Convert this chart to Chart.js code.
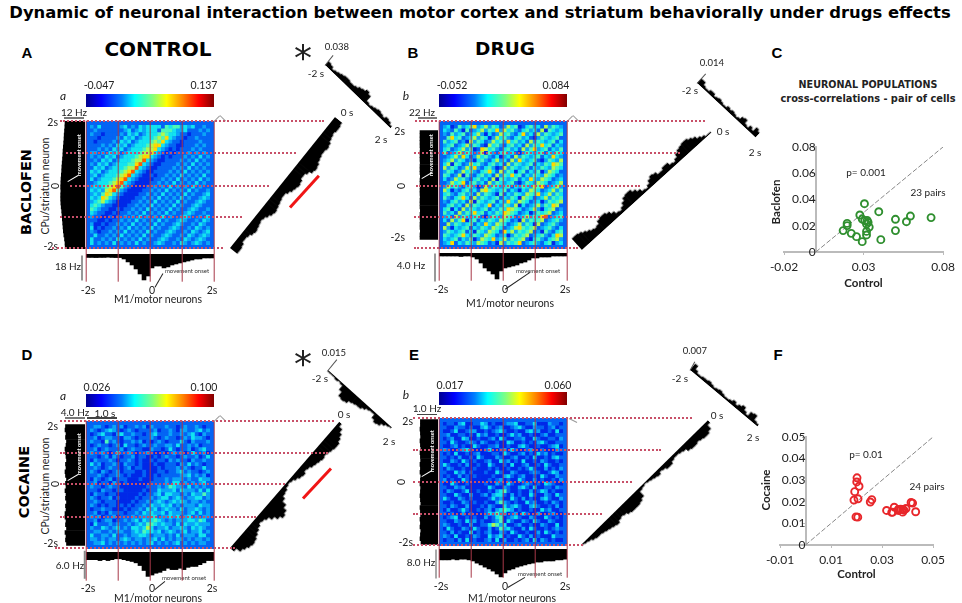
<!DOCTYPE html>
<html><head><meta charset="utf-8">
<script src="https://cdn.jsdelivr.net/npm/chart.js@4"></script>
<style>
html,body{margin:0;padding:0;background:#fff;width:962px;height:603px;overflow:hidden}
canvas{position:absolute;display:block}
.t{position:absolute;white-space:nowrap;transform-origin:center;font-family:Lato,sans-serif;color:#222;line-height:1}
.s{position:absolute;transform-origin:0 50%}
</style></head><body>
<script>
// Colour levels 0..9 of the jet scale used by the cross-correlation matrices
const jetLevels=['#0000a8','#0028e8','#0464f4','#0aa4f8','#12e4f0','#4cf8b8','#b0f850','#ffd800','#ff5a00','#c00000'];

const heatA=[
"32422222342324344442545534342232","23222222234234344425554334222323","32212222324342344456544322122232","22122223243423444565743221223222",
"21222232434234445657432212222322","22232324342344456774322112223232","22323243423444566743212122232322","33232434234445667432121222323232",
"32324342344456774321212223232423","23243423444566843211222232324232","32434234445578432112222323242323","24342344456684321122223232423232",
"43423444567843211222232324232323","34234445678432112122323242323242","42344456784321111223232423232423","23444567843211112232324232324232",
"34345678532111122323242323242322","43436785321111223232423232423223","34357643211112232324232324232234","43476432111122323242323242322343",
"34564321111223232423232423223432","45432211112232324232324232234322","54322112122323242323242322343223","43221121223232423232423223432232",
"32211212232324232324232234322324","22112122323242323242322343223243","31121223232423232423223432232432","41212232324232324232234322324323",
"32122323242323242322343223243234","24223232423232423223432232432343","42232324232324232234322324323432","42323242323242322343223243234323"];
const heatB=[
"34125345734635423645124534263543","43253152346354736453245342615434","32534523463142364532473426354345","25745234635413645324534213543452",
"53452316354236453745342635434524","34523463542164532453426354745243","45234635127645324534263573452435","52346354236153245342135434524354",
"23463742364532413426354345243743","34635423145324634263743452135436","46154236453245342635434524354765","63542364732453126354345243543654",
"35423645324574263541452435136542","54236153245342635474524354365423","42364532453426154345243743654234","23645724534263543452135436542346",
"36453245312635434524354365723463","64132453426754345243143654234635","45324534263543152435436547346354","53245742635434524354165423463545",
"32453426154345243743654234135456","24534263543472435436142346354762","45142635434524354765423463145623","53426354745243547654234135456234",
"34263543452135436542346354782345","42635714524354365423163545623453","26354345243743654234635416234532","63143452435436542346754562345324",
"35434524154365427463545623153245","54345743543654234135456234532476","43452435136547346354562145324563","34724354365423163545723453245134"];
const heatD=[
"23321232312232313222322123223212","32123432123212222312232133223423","12342213422322123422232232342132","23123322133212223212322123243321",
"32215232122323121232122242132223","12322123142212322322332422323122","23123222312322113221242122312342","32232124223212232112123231242231",
"22123132122312211212322123223124","13222321223212112122132322132232","42312232132212111211222132423212","23212322123122111121222323212242",
"32132123122211211122122342322123","22321223212111211212222233423231","13212312221112111222323332322433","23122132121111112222324423232342",
"32212322111111122232354332423232","22132212211111212243334243332424","13221221111112122342443323243353","32122312111121223234423432334423",
"23212221111212232343234343233232","32121221212122324334342323332433","12232211121223243423433242334323","23121322212232434334243332342423",
"32312231222323334423343423423233","23123312232342434543232333443542","14222323223234355434332424334333","32243234232443464233423343243432",
"23322323322343544342343234233423","42233242232334432333232423332442","33232332343233233424232332323323","23342323232323234232323423232332"];
const heatE=[
"12213411224312112334112241113221","21132212113421231123421132212312","11241123311212342112113423112141","23112212142311211242311211231122",
"12311431121123142112231142112213","21421123213211211431121213421122","11231211421122311211342112112341","32112342111241123142112311211132",
"12141121231112214211231214231211","21213112142111321123112141121342","11321421211231142312141121321121","42112131121142112141123112142112",
"13211211211121211211212421131213","21142312111211421132111232112431","12113121211112113421231121421132","31211421111121231211421131211213",
"11421121111211321421123212143211","21132311111142113211342141122132","13211241121121345211211312431211","21142113112313442131211421132142",
"42113212111124231142131211342113","11211321211211353212114231121321","21321131112132114234211342112131","13112421121231345431211211423112",
"21211312111243534123142113112311","12341121211312451234211321142121","21132142312112351421132142113211","32112113112246534112311211321141",
"14211321421131253421131421121232","21312114121231132142112113142121","32141121321142341211421312111422","12213141211231413112123141321211"];

const leftA=[11.9,12,12.3,12.7,13,13.2,13.4,13.6,13.8,14,14.3,14.5,14.6,14.6,14.5,14.6,14.5,14.4,14.2,14,13.9,13.7,13.5,13.3,13.2,13,12.8,12.6,12.5,12.3,12.1,12];
const leftB=[22,22,21.6,22,22,21.8,22,22,21.6,22,22,22,21.8,22,22,21.8,22,22,21.6,22,22,22,21.8,22,22,22,21.8,22,22,22,22,22];
const leftD=[3.7,3.9,3.8,4,3.7,3.9,3.8,4,4,3.8,3.9,3.7,3.9,3.8,4,3.8,3.9,3.7,3.9,4,3.8,3.9,3.7,3.8,3.9,4,3.8,3.7,3.9,3.8,4,3.9];
const leftE=[.85,.9,.88,.86,.9,.88,.9,.87,.88,.9,.86,.88,.9,.88,.87,.9,.88,.86,.9,.88,.9,.87,.88,.9,.86,.88,.9,.87,.88,.9,.88,.88];

const bottomA=[2.7,2.7,2.8,2.7,2.7,2.5,2.7,2.8,2.8,3.9,6.2,8.6,11.7,15.6,20.3,17.2,10.9,9.4,9.4,10.9,10.1,8.6,7.8,7,6.2,5.5,4.7,3.9,3.9,3.1,3.1,3.1];
const bottomB=[.43,.43,.43,.43,.43,.5,.43,.43,.57,.86,1.43,2.14,2.57,3,3.71,2.57,2.14,2,1.86,1.71,1.43,1.29,1,.71,.71,.57,.57,.57,.43,.43,.43,.43];
const bottomD=[1.7,1.7,1.7,1.9,1.7,1.9,1.7,1.5,1.5,1.7,1.9,2.1,2.4,3,4.1,5.4,5.1,4.7,4.5,4.1,3.6,3.9,3.9,3.6,3.9,3.4,3.2,3.2,2.8,2.4,1.9,1.9];
const bottomE=[3,3,3,2.8,3,2.8,2.8,3,3.3,3.9,4.4,5,5.5,6.1,6.9,7.7,6.6,5.8,5.5,5,4.7,4.4,4.1,3.9,3.6,3.6,3.3,3.3,3.3,3,3,2.8];

const diagA=[9,9,8,6,6,7,9,10,9,8,7,8,10,12,13,12,11,10,9,9,11,13,14,15,14,12,12,14,17,18,17,15,14,13,13,14,13,11,10,9,10,10,9];
const diagB=[15,15,14,12,10,8,7,8,11,12,12,10,7,4,3,5,8,11,12,12,9,6,3,2,4,7,9,8,5,5,7,7,4,3,5,8,10,11,12,12,10,8,5,3,1,1];
const diagD=[5,10,12,14,15,14,12,10,8,6,7,9,13,17,20,18,14,9,6,5,3,2,3,5,7,8,6,7,9,10,11,12,11,12,13,14,14,12,10,7,3];
const diagE=[1,2,3,5,6,6,7,8,9,10,11,9,8,9,11,12,12,12,11,9,3,2,1,2,3,4,5,3,4,6,6,4,3,3,4,5,8,9,9,8,9,10,10,8,3];
const crossA=[5,4,2,3,4,5,6,6,5,5,6,8,9,11,9,3,2,3,4,5,4,3,5,4,2];
const crossB=[6,6,3,2,2,4,4,2,3,4,3,2,2,4,3,4,3,2,3,6,7,3,2,5,3,8,6];
const crossD=[1,1,1,2,1,2,7,12,13,12,9,8,7,7,5,3,2,2,6,8,7,4,2,1];
const crossE=[8,4,2,2,3,3,4,3,2,3,4,3,2,2,3,5,3,5,7,4,2,7,8,3,2];

const baclofenControl=[.0306,.0277,.0396,.0501,.0595,.057,.0725,.0501,.0409,.0292,.0256,.0223,.0172,.0197,.0197,.0319,.0319,.0336,.0329,.0308,.0292,.0319,.0323];
const baclofenValues=[.0368,.0282,.0307,.0249,.0274,.0231,.0262,.0163,.0094,.0079,.0117,.0142,.0163,.0201,.0218,.013,.0157,.019,.0226,.0239,.0251,.0213,.0241];
const cocaineControl=[.0202,.0201,.021,.0193,.019,.0206,.0198,.0205,.026,.0254,.0318,.0338,.0342,.0348,.0364,.0373,.0381,.0386,.0394,.0414,.042,.0432,.0381,.0364];
const cocaineValues=[.0311,.0292,.0272,.0247,.0208,.0214,.013,.0129,.021,.0199,.016,.0151,.0152,.0175,.016,.0166,.0152,.0161,.0169,.0197,.0194,.0154,.0165,.0165];
const baclofenTicksStep=.02, cocaineTicksStep=.01;

const noExtras={legend:{display:false},tooltip:{enabled:false},title:{display:false}};
function cv(x,y,w,h,css){const c=document.createElement('canvas');c.width=w;c.height=h;c.style.left=x+'px';c.style.top=y+'px';c.style.width=w+'px';c.style.height=h+'px';if(css)Object.assign(c.style,css);document.body.appendChild(c);return c;}
function T(s,x,y,size,o){o=o||{};const d=document.createElement('div');d.className='t';d.textContent=s;d.style.left=x+'px';d.style.top=y+'px';d.style.fontSize=size+'px';
 d.style.transform='translate(-50%,-50%)'+(o.rot?` rotate(${o.rot}deg)`:'');
 if(o.b)d.style.fontWeight=o.b;if(o.i)d.style.fontStyle='italic';if(o.c)d.style.color=o.c;if(o.f)d.style.fontFamily=o.f;if(o.ls)d.style.letterSpacing=o.ls+'px';if(o.z)d.style.zIndex=o.z;document.body.appendChild(d);}
function seg(x1,y1,x2,y2,col,w,z){const d=document.createElement('div');d.className='s';const L=Math.hypot(x2-x1,y2-y1);d.style.cssText+=`left:${x1}px;top:${y1-w/2}px;width:${L}px;height:${w}px;background:${col};transform:rotate(${Math.atan2(y2-y1,x2-x1)}rad);z-index:${z||5}`;document.body.appendChild(d);}
function dots(y,x1,x2){const d=document.createElement('div');d.style.cssText=`position:absolute;left:${x1}px;top:${y-1}px;width:${x2-x1}px;border-top:2px dotted #c85068;z-index:6`;document.body.appendChild(d);}

function heat(x,y,rows){const n=rows.length,pts=[],cols=[];rows.forEach((r,j)=>{for(let i=0;i<r.length;i++){pts.push({x:i+.5,y:j+.5});cols.push(jetLevels[+r[i]]);}});
 new Chart(cv(x,y,128,128,{background:'#0464f4',filter:'blur(0.4px)'}),{type:'scatter',data:{datasets:[{data:pts,pointStyle:'rect',pointRadius:2.95,pointBorderWidth:0,pointBackgroundColor:cols}]},
 options:{responsive:false,animation:false,events:[],plugins:noExtras,layout:{padding:0},scales:{x:{display:false,min:0,max:n},y:{display:false,min:0,max:n,reverse:true}}}});}
function leftHist(right,top,vals,plotW,max,pad){const w=60,n=vals.length;
 new Chart(cv(right-w,top-8,w,144),{type:'bar',data:{labels:vals.map((_,i)=>i),datasets:[{data:vals,backgroundColor:'#000',barPercentage:1,categoryPercentage:1,borderWidth:0}]},
 options:{indexAxis:'y',responsive:false,animation:false,events:[],plugins:noExtras,layout:{padding:{top:8,bottom:8,left:0,right:0}},
 scales:{x:{display:false,min:0,max:max,reverse:true},y:{reverse:true,afterFit:s=>{s.width=w-plotW},grid:{display:false,drawTicks:false},border:{display:false},
 ticks:{autoSkip:false,maxRotation:0,padding:pad,color:'#222',font:{family:'Lato',size:10.5},callback:(v,i)=>i===0?'-2s':(i===n-1?'2s':'')}}}}});}
function bottomHist(x,top,vals,plotH,max){const n=vals.length,pad=30;
 new Chart(cv(x-pad,top,128+2*pad,plotH+18),{type:'bar',data:{labels:vals.map((_,i)=>i),datasets:[{data:vals,backgroundColor:'#000',barPercentage:1,categoryPercentage:1,borderWidth:0}]},
 options:{responsive:false,animation:false,events:[],plugins:noExtras,layout:{padding:{left:pad,right:pad,top:0,bottom:0}},
 scales:{y:{display:false,min:0,max:max,reverse:true},x:{afterFit:s=>{s.height=18},grid:{display:false,drawTicks:false},border:{display:false},
 ticks:{autoSkip:false,maxRotation:0,padding:2,color:'#222',font:{family:'Lato',size:10.5},callback:(v,i)=>i===0?'-2s':(i===n/2?'0':(i===n-1?'2s':''))}}}}});}
function diag(x,y,angle,len,vals,thick,down){const css={transform:`rotate(${angle}deg)`,transformOrigin:down?'0 0':'0 100%'};
 new Chart(cv(x,down?y:y-thick,Math.round(len),thick,css),{type:'bar',data:{labels:vals.map((_,i)=>i),datasets:[{data:vals,backgroundColor:'#000',barPercentage:1,categoryPercentage:1,borderWidth:0}]},
 options:{responsive:false,animation:false,events:[],plugins:noExtras,layout:{padding:0},scales:{x:{display:false},y:{display:false,min:0,max:thick,reverse:!!down}}}});}
function scat(x,y,w,h,pad,axisH,xs,ys,col,xr,yr,xStep,yStep,title,diagMax){
 const pts=xs.map((v,i)=>({x:v,y:ys[i]}));const f=v=>String(+(+v).toFixed(2));
 new Chart(cv(x,y,w,h),{type:'scatter',data:{datasets:[
  {data:pts,pointRadius:3.5,pointBorderWidth:1.9,pointBorderColor:col,pointBackgroundColor:'rgba(255,255,255,0)',showLine:false},
  {data:[{x:0,y:0},{x:diagMax,y:diagMax}],showLine:true,borderColor:'#888',borderWidth:1,borderDash:[5,2],pointRadius:0}]},
 options:{responsive:false,animation:false,events:[],plugins:noExtras,layout:{padding:{left:pad[0],right:pad[1],top:pad[2],bottom:0}},
 scales:{
  x:{type:'linear',min:xr[0],max:xr[1],afterFit:s=>{s.height=axisH},grid:{drawOnChartArea:false,drawTicks:true,tickLength:3,color:'#bbb'},border:{color:'#bbb',width:2},
     ticks:{stepSize:xStep,padding:5,color:'#222',font:{family:'Lato',size:12},callback:f,maxRotation:0},
     title:{display:true,text:title,color:'#222',font:{family:'Lato',size:11.5,weight:'bold'},padding:0}},
  y:{type:'linear',position:{x:0},min:yr[0],max:yr[1],grid:{drawOnChartArea:false,drawTicks:true,tickLength:3,color:'#bbb'},border:{color:'#bbb',width:2},
     ticks:{stepSize:yStep,padding:6,color:'#222',font:{family:'Lato',size:12},callback:f}}}}});}
function cbar(x,y){const d=document.createElement('div');d.style.cssText=`position:absolute;left:${x}px;top:${y}px;width:128px;height:13px;background:linear-gradient(90deg,#00008f,#0000ff 12%,#0080ff 28%,#00ffff 38%,#80ff80 52%,#ffff00 63%,#ff8000 76%,#ff0000 88%,#800000)`;document.body.appendChild(d);}
function reds(x,y1,y2){[0,32,64,96,128].forEach(o=>seg(x+o,y1,x+o,y2,'#a83848',1.4));}

// Title
T('Dynamic of neuronal interaction between motor cortex and striatum behaviorally under drugs effects',480,13,16.4,{b:'bold',f:'DejaVu Sans',c:'#000'});
T('CONTROL',158,49,20,{b:'bold',f:'DejaVu Sans',c:'#000'});T('DRUG',505,49,18.5,{b:'bold',f:'DejaVu Sans',c:'#000'});
[['A',27,52],['B',413,52],['C',777,52],['D',27,354],['E',414,354],['F',778,354]].forEach(a=>T(a[0],a[1],a[2],15,{b:'bold',f:'Liberation Sans',c:'#000'}));
T('BACLOFEN',26,192,14.5,{b:'bold',f:'DejaVu Sans',rot:-90,c:'#000'});T('COCAINE',24,482,14.5,{b:'bold',f:'DejaVu Sans',rot:-90,c:'#000'});
T('CPu/striatum neuron',45,186,10.5,{rot:-90});T('CPu/striatum neuron',45,486,10.5,{rot:-90});

// Panel A
cbar(86,94);heat(86,121,heatA);leftHist(85,121,leftA,26,15.6,1);bottomHist(86,254,bottomA,28,21.9);
diag(230,248,-51.3,168,diagA,20,true);diag(325,65,44,91,crossA,13,false);
reds(86,121,282);[[121,60,324],[153,66,296],[186,70,269],[217,60,242],[248,52,223]].forEach(a=>dots(a[0],a[1],a[2]));
seg(290,207,319,175,'#f01515',3);T('*',303,58,36,{f:'DejaVu Sans'});seg(325,65,333,55,'#555',1);
T('-0.047',99,85,10.5);T('0.137',204,85,10.5);T('a',63,96,12,{i:1});T('12 Hz',74,112,10);seg(64,118,84,118,'#777',1.5);T('18 Hz',68,266,10);seg(82,255,82,280,'#333',1);
T('0',55,186,10.5,{rot:-90});T('M1/motor neurons',158,299,10.5);T('0.038',337,47,9.5);T('-2 s',316,73,10);T('0 s',347,112,10);T('2 s',381,139,10);

// Panel B
cbar(439,94);heat(439,121,heatB);leftHist(438,121,leftB,22,26.9,11);bottomHist(439,253,bottomB,28,4);
diag(582,250,-42.2,175,diagB,18,false);diag(697,83,43,80,crossB,10,false);
reds(439,121,281);[[121,415,705],[153,414,680],[186,416,640],[217,414,600],[248,414,578]].forEach(a=>dots(a[0],a[1],a[2]));
T('-0.052',452,85,10.5);T('0.084',556,85,10.5);T('b',406,96,12,{i:1});T('22 Hz',422,112,10);seg(418,118,437,118,'#777',1.5);T('4.0 Hz',411,265,10);seg(435,253,435,281,'#333',1);
T('0',401,186,10.5,{rot:-90});T('M1/motor neurons',510,303,10.5);T('0.014',712,63,9.5);T('-2 s',690,90,10);T('0 s',723,131,10);T('2 s',755,152,10);seg(697,83,706,73,'#555',1);

// Panel C
T('NEURONAL POPULATIONS',868,85,9.6,{b:'bold',f:'DejaVu Sans'});T('cross-correlations - pair of cells',868,99,9.8,{b:'bold',f:'DejaVu Sans'});
scat(750,130,212,160,[34,19,17],38,baclofenControl,baclofenValues,'#2f8f2f',[-.02,.08],[0,.08],.05,baclofenTicksStep,'Control',.08);
T('Baclofen',776,202,11.5,{b:'bold',rot:-90});T('p= 0.001',866,172,10);T('23 pairs',928,192,10);

// Panel D
cbar(86,394);heat(86,421,heatD);leftHist(85,421,leftD,22,4.4,5);bottomHist(86,552,bottomD,28,6.2);
diag(230,548,-49.1,167,diagD,22,true);diag(328,370,42,86,crossD,14,true);
reds(86,421,581);[[421,60,334],[453,60,328],[484,60,285],[517,60,256],[548,55,235]].forEach(a=>dots(a[0],a[1],a[2]));
seg(303,498,331,468,'#f01515',3);T('*',303,364,36,{f:'DejaVu Sans'});seg(328,370,337,359,'#555',1);
T('0.026',97,387,10.5);T('0.100',204,387,10.5);T('a',63,396,12,{i:1});T('4.0 Hz',75,412,10);T('1.0 s',105,413,10);seg(87,418,117,418,'#444',1.2);seg(65,418,85,418,'#777',1.5);T('6.0 Hz',70,565,10);seg(85,551,85,579,'#888',1.5);
T('0',55,484,10.5,{rot:-90});T('M1/motor neurons',158,598,10.5);T('0.015',334,353,9.5);T('-2 s',320,378,10);T('0 s',344,414,10);T('2 s',389,441,10);

// Panel E
cbar(439,392);heat(439,418,heatE);leftHist(438,418,leftE,22,1.1,3);bottomHist(439,549,bottomE,29,8);
diag(581,545,-44.5,178,diagE,14,true);diag(690,370,40,88,crossE,10,false);
reds(439,418,578);[[418,413,692],[450,413,661],[482,413,632],[514,413,602],[545,413,583]].forEach(a=>dots(a[0],a[1],a[2]));
T('0.017',450,385,10.5);T('0.060',558,385,10.5);T('b',406,395,12,{i:1});T('1.0 Hz',427,408,10);seg(417,414,437,414,'#444',1);T('8.0 Hz',421,562,10);seg(436,549,436,578,'#555',1);
T('0',401,482,10.5,{rot:-90});T('M1/motor neurons',512,598,10.5);T('0.007',695,351,9.5);T('-2 s',680,378,10);T('0 s',717,415,10);T('2 s',753,437,10);seg(690,370,695,361,'#555',1);

// Panel F
scat(750,420,212,161,[30,29,17],36,cocaineControl,cocaineValues,'#e8262a',[-.01,.05],[0,.05],.02,cocaineTicksStep,'Control',.05);
T('Cocaine',766,490,11.5,{b:'bold',rot:-90});T('p= 0.01',866,454,10);T('24 pairs',927,486,10);

// Movement-onset annotations
[[79,155],[431,155],[79,454],[432,451]].forEach(p=>T('movement onset',p[0],p[1],5.6,{rot:-90,c:'#fff',b:'bold',z:7}));
[[187,271,163,273,155,287],[538,271,530,272,505,289],[184,578,165,581,155,589],[540,574,525,577,508,587]].forEach(a=>{T('movement onset',a[0],a[1],6,{c:'#333'});seg(a[2],a[3],a[4],a[5],'#222',.9);});
[[78,175,68,181],[432,172,422,178],[78,474,68,480],[432,470,422,476]].forEach(a=>seg(a[0],a[1],a[2],a[3],'#fff',1,7));
[[214,121,220,115],[220,115,226,121],[567,121,573,115],[573,115,579,121],[214,421,220,415],[220,415,226,421],[569,418,577,422]].forEach(a=>seg(a[0],a[1],a[2],a[3],'#999',1));
</script>
</body></html>
